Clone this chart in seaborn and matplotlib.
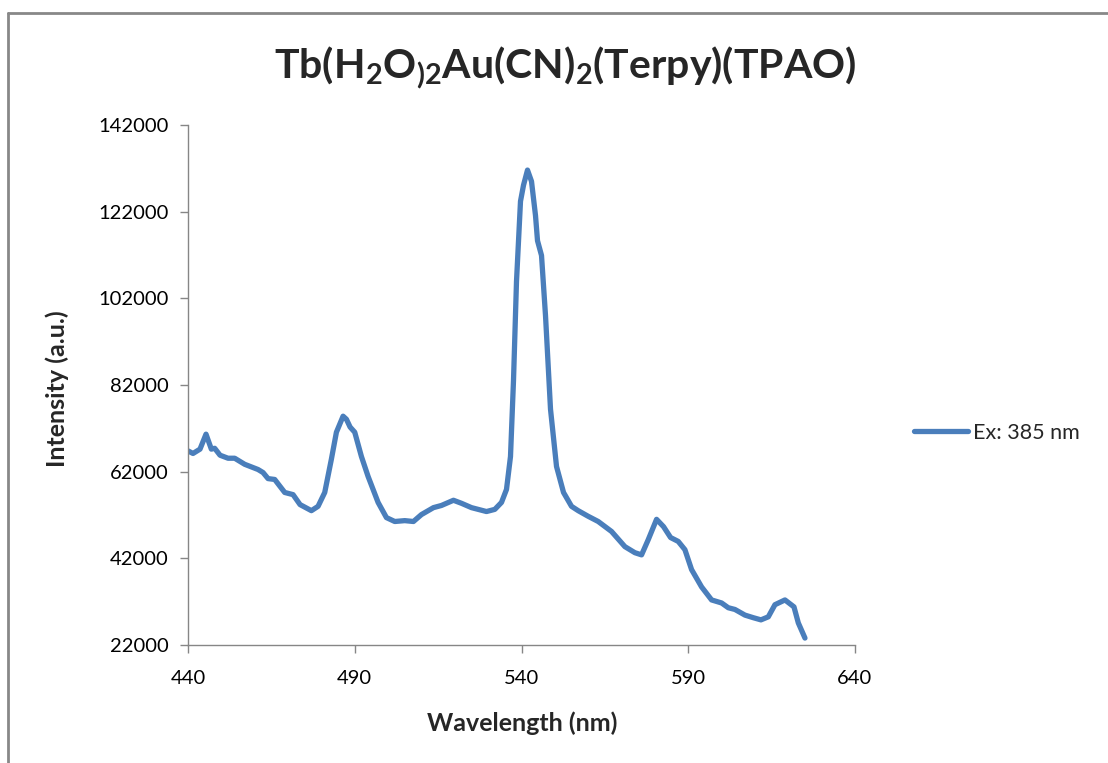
import matplotlib
matplotlib.use("Agg")
import matplotlib.pyplot as plt
import seaborn as sns
import pandas as pd
from matplotlib.lines import Line2D

wavelength = [440, 441.5, 443.6, 445.4, 447, 448, 449.6, 452, 454, 457, 461, 462.5, 464, 466,
              469, 471.5, 473.6, 477, 479, 481, 483, 484.5, 486.5, 487.5, 488.6, 490, 492, 494,
              497, 499.5, 502, 505, 507.6, 510, 513.6, 516, 519.6, 522, 525, 529.5, 532, 534,
              535.5, 536.7, 537.6, 538.5, 539.7, 540.6, 541.8, 543, 544.2, 544.8, 546, 547.2,
              548.7, 550.5, 552.6, 555, 557, 560, 563, 567, 571, 574, 576, 578, 580.5, 582.6,
              584.7, 587, 589, 591, 594, 597, 600, 602, 604, 607, 609.5, 611.8, 614, 616, 619,
              621.7, 623, 625]
intensity = [66800, 66200, 67200, 70650, 67200, 67400, 65800, 65100, 65100, 63700, 62500, 61800,
             60400, 60200, 57200, 56700, 54400, 53000, 54000, 57200, 64900, 71100, 74800, 74100,
             72300, 71100, 65500, 60900, 54900, 51400, 50500, 50700, 50500, 52100, 53700, 54200,
             55400, 54700, 53700, 52800, 53300, 54900, 57900, 65500, 83000, 105900, 124400,
             128100, 131600, 129000, 121100, 115300, 111900, 98000, 76400, 63200, 57200, 54000,
             53000, 51700, 50500, 48200, 44700, 43300, 42800, 46300, 51000, 49300, 46800, 45900,
             44000, 39400, 35400, 32400, 31700, 30600, 30200, 28900, 28300, 27800, 28500, 31300,
             32400, 30800, 27100, 23600]
series_name = "Ex: 385 nm"
title = r"Tb(H$_2$O$_{)2}$Au(CN)$_2$(Terpy)(TPAO)"
x_label = "Wavelength (nm)"
y_label = "Intensity (a.u.)"
x_ticks = [440, 490, 540, 590, 640]
y_ticks = [22000, 42000, 62000, 82000, 102000, 122000, 142000]

sns.set_style("white")
plt.rcParams["font.family"] = ["Lato", "DejaVu Sans"]
plt.rcParams["mathtext.fontset"] = "custom"
plt.rcParams["mathtext.rm"] = "Lato:bold"
plt.rcParams["mathtext.bf"] = "Lato:bold"
plt.rcParams["mathtext.default"] = "bf"

df = pd.DataFrame({"Wavelength": wavelength, "Intensity": intensity})

fig = plt.figure(figsize=(11.08, 7.63), dpi=100)
ax = fig.add_axes([188/1108, 1-645/763, (855-188)/1108, (645-125)/763])
color = "#4A7EBB"
sns.lineplot(data=df, x="Wavelength", y="Intensity", ax=ax, color=color, linewidth=3.8,
             solid_capstyle="round", solid_joinstyle="round")

ax.set_xlim(440, 640)
ax.set_ylim(22000, 142000)
ax.set_xticks(x_ticks)
ax.set_yticks(y_ticks)
ax.set_xticklabels([str(t) for t in x_ticks])
ax.set_yticklabels([str(t) for t in y_ticks])
ax.tick_params(axis="both", which="both", length=6, width=1, color="#868686",
               labelsize=14.5, labelcolor="#000000", direction="out")
ax.tick_params(axis="y", pad=8)
ax.tick_params(axis="x", pad=12)
ax.tick_params(left=True, bottom=True)
for s in ["top", "right"]:
    ax.spines[s].set_visible(False)
for s in ["left", "bottom"]:
    ax.spines[s].set_color("#868686")
    ax.spines[s].set_linewidth(1)
ax.set_xlabel("")
ax.set_ylabel("")
fig.text(522/1108, 1-723/763, x_label, ha="center", va="center", fontsize=18, fontweight="bold")
fig.text(57/1108, 1-389/763, y_label, ha="center", va="center", rotation=90,
         fontsize=18, fontweight="bold")

fig.text(565/1108, 1-68/763, title, ha="center", va="center", fontsize=29.5,
         fontweight="bold")

handle = Line2D([0], [0], color=color, linewidth=3.8, solid_capstyle="round")
ax.legend([handle], [series_name], loc="center left",
          bbox_to_anchor=(914/1108, 1-433/763), bbox_transform=fig.transFigure,
          frameon=False, fontsize=15.5, handlelength=2.5, handletextpad=0.25,
          borderaxespad=0, borderpad=0)

# outer chart frame (partially visible)
fig.add_artist(Line2D([8/1108, 1.0], [1-13/763, 1-13/763], transform=fig.transFigure,
                      color="#888888", linewidth=2))
fig.add_artist(Line2D([8/1108, 8/1108], [0.0, 1-13/763], transform=fig.transFigure,
                      color="#888888", linewidth=2))

fig.savefig("out.png", dpi=100)
